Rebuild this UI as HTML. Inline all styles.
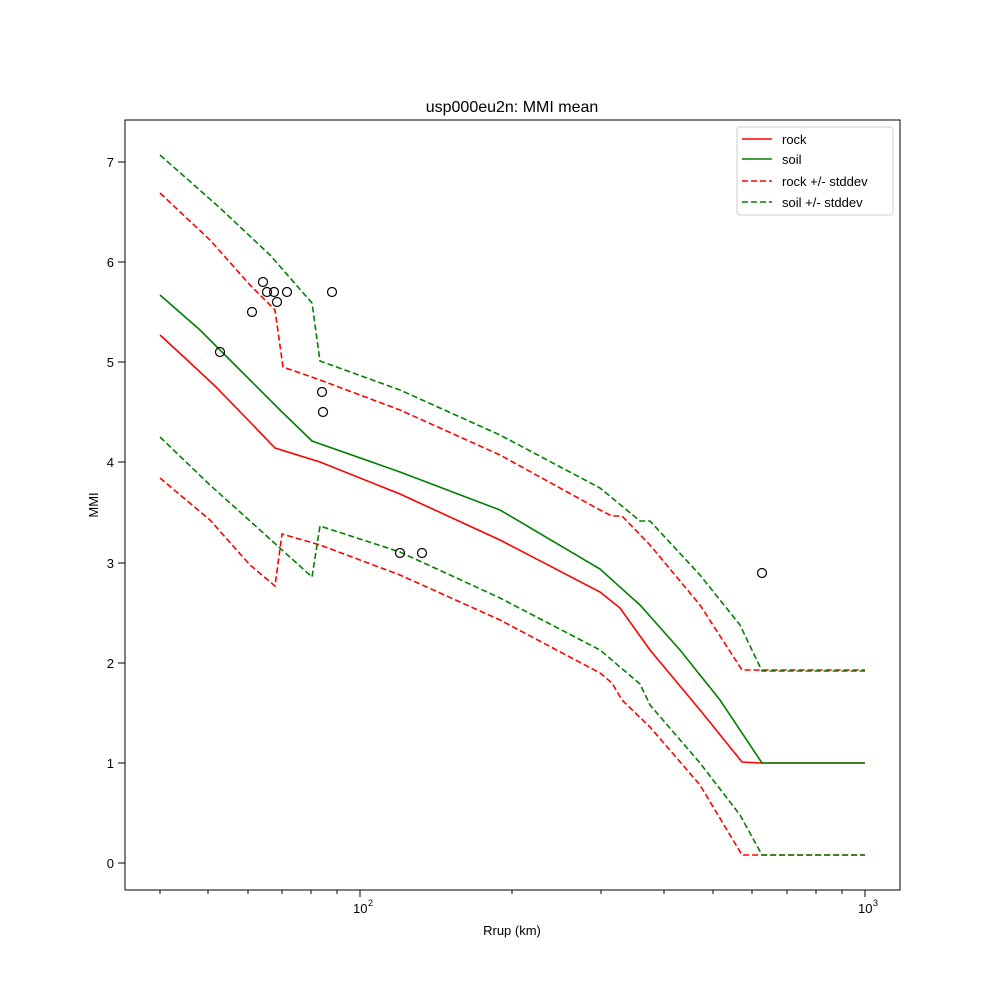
<!DOCTYPE html>
<html><head><style>body{margin:0;background:#fff}</style></head><body>
<svg width="1000" height="1000" xmlns="http://www.w3.org/2000/svg" font-family="Liberation Sans, DejaVu Sans, sans-serif">
<rect width="1000" height="1000" fill="#fff"/>
<text x="512" y="112" font-size="16" text-anchor="middle">usp000eu2n: MMI mean</text>
<g stroke="#000" stroke-width="1">
<line x1="360" y1="890" x2="360" y2="897"/><line x1="865" y1="890" x2="865" y2="897"/>
<g>
<line x1="160" y1="890" x2="160" y2="894"/><line x1="208" y1="890" x2="208" y2="894"/><line x1="248" y1="890" x2="248" y2="894"/><line x1="282" y1="890" x2="282" y2="894"/><line x1="311" y1="890" x2="311" y2="894"/><line x1="337" y1="890" x2="337" y2="894"/>
<line x1="512" y1="890" x2="512" y2="894"/><line x1="601" y1="890" x2="601" y2="894"/><line x1="664" y1="890" x2="664" y2="894"/><line x1="713" y1="890" x2="713" y2="894"/><line x1="752" y1="890" x2="752" y2="894"/><line x1="787" y1="890" x2="787" y2="894"/><line x1="816" y1="890" x2="816" y2="894"/><line x1="842" y1="890" x2="842" y2="894"/>
</g>
<line x1="118" y1="863" x2="125" y2="863"/><line x1="118" y1="763" x2="125" y2="763"/><line x1="118" y1="663" x2="125" y2="663"/><line x1="118" y1="563" x2="125" y2="563"/><line x1="118" y1="462" x2="125" y2="462"/><line x1="118" y1="362" x2="125" y2="362"/><line x1="118" y1="262" x2="125" y2="262"/><line x1="118" y1="162" x2="125" y2="162"/>
</g>
<g font-size="13" text-anchor="end">
<text x="114" y="868">0</text><text x="114" y="768">1</text><text x="114" y="668">2</text><text x="114" y="568">3</text><text x="114" y="467">4</text><text x="114" y="367">5</text><text x="114" y="267">6</text><text x="114" y="167">7</text>
</g>
<text x="353" y="913" font-size="13">10</text><text x="368" y="906" font-size="9">2</text>
<text x="858" y="913" font-size="13">10</text><text x="873" y="906" font-size="9">3</text>
<text x="512" y="935" font-size="13" text-anchor="middle">Rrup (km)</text>
<text x="98" y="505" font-size="13" text-anchor="middle" transform="rotate(-90 98 505)">MMI</text>
<g fill="none" stroke-width="1.6">
<polyline stroke="#f00" points="160,335 185,358 215,386 250,422 275,448 320,462 400,494 500,540 600,592 620,608 650,650 700,710 742,762 760,763 865,763"/>
<polyline stroke="#008000" points="160,295 200,330 240,370 280,410 312,441 400,472 500,510 600,569 640,605 680,650 720,700 762,763 865,763"/>
<g stroke-dasharray="6,3">
<polyline stroke="#f00" points="160,193 210,240 250,285 275,310 283,367 320,380 400,410 500,455 600,510 612,516 622,516 650,545 700,605 742,670 865,670"/>
<polyline stroke="#f00" points="160,478 210,520 250,565 275,586 282,534 320,545 400,575 500,620 600,673 612,683 622,700 650,727 700,785 742,855 865,855"/>
<polyline stroke="#008000" points="160,155 220,208 270,255 312,303 320,361 400,390 500,435 600,488 640,521 650,521 700,575 740,625 762,671 865,671"/>
<polyline stroke="#008000" points="160,437 210,485 260,530 312,577 320,526 400,552 500,598 600,650 640,684 650,705 700,763 740,815 762,855 865,855"/>
</g>
</g>
<g fill="none" stroke="#000" stroke-width="1.2">
<circle cx="220" cy="352" r="4.5"/><circle cx="252" cy="312" r="4.5"/><circle cx="263" cy="282" r="4.5"/><circle cx="267" cy="292" r="4.5"/><circle cx="274" cy="292" r="4.5"/><circle cx="277" cy="302" r="4.5"/><circle cx="287" cy="292" r="4.5"/><circle cx="332" cy="292" r="4.5"/><circle cx="322" cy="392" r="4.5"/><circle cx="323" cy="412" r="4.5"/><circle cx="400" cy="553" r="4.5"/><circle cx="422" cy="553" r="4.5"/><circle cx="762" cy="573" r="4.5"/>
</g>
<rect x="125" y="120" width="775" height="770" fill="none" stroke="#000" stroke-width="1"/>
<rect x="737" y="127" width="156" height="88" rx="3" fill="#fff" stroke="#ccc"/>
<g stroke-width="1.6">
<line x1="742" y1="139" x2="772" y2="139" stroke="#f00"/>
<line x1="742" y1="159" x2="772" y2="159" stroke="#008000"/>
<line x1="742" y1="181" x2="772" y2="181" stroke="#f00" stroke-dasharray="6,3"/>
<line x1="742" y1="202" x2="772" y2="202" stroke="#008000" stroke-dasharray="6,3"/>
</g>
<g font-size="13">
<text x="782" y="144">rock</text><text x="782" y="164">soil</text><text x="782" y="186">rock +/- stddev</text><text x="782" y="207">soil +/- stddev</text>
</g>
</svg>
</body></html>
